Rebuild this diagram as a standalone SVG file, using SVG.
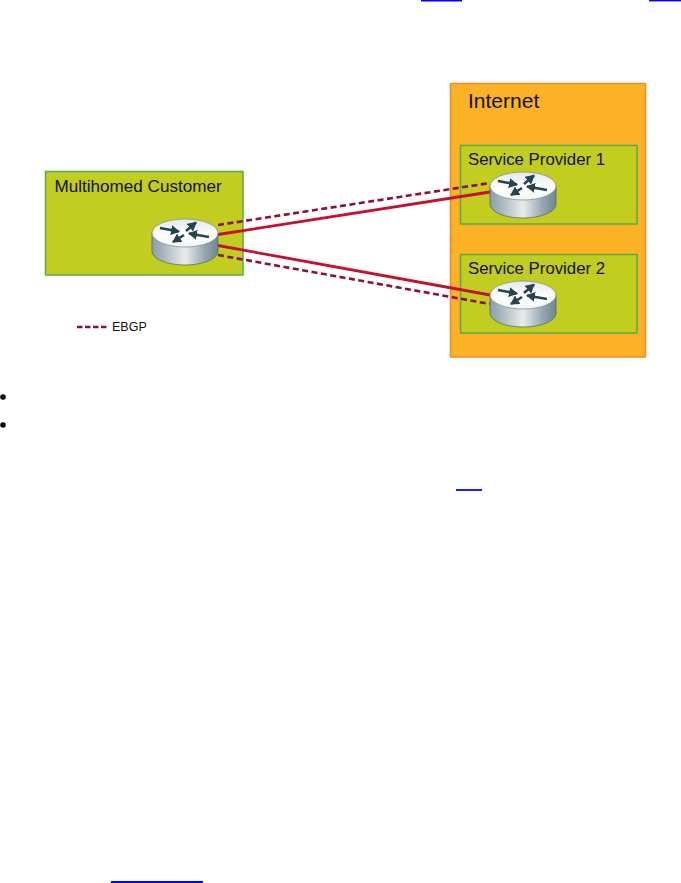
<svg xmlns="http://www.w3.org/2000/svg" width="681" height="883" viewBox="0 0 681 883">
<style>
.lbl{font-family:"Liberation Sans",Arial,sans-serif;fill:#111}
.sub{font-size:16.800px}
.grn{fill:#c1cd1f;stroke:#5aa84f;stroke-width:1.5}
.sol{stroke:#c8102e;stroke-width:2.800;fill:none}
.dsh{stroke:#8e1230;stroke-width:2.600;fill:none;stroke-dasharray:6 3.500}
.lnk{stroke:#0000ff;stroke-width:1.800}
.arw{stroke:#24444f;stroke-width:2.600;fill:none;marker-end:url(#h)}
</style>
<defs>
<marker id="h" markerUnits="userSpaceOnUse" markerWidth="11" markerHeight="11" refX="8" refY="5" orient="auto"><path d="M0 0L9 5L0 10z" fill="#24444f"/></marker>
<linearGradient id="side" x1="0" x2="1" y1="0" y2="0">
<stop offset="0" stop-color="#8b9ea9"/><stop offset=".18" stop-color="#a9b8bf"/><stop offset=".5" stop-color="#e9ecec"/><stop offset=".8" stop-color="#94a6b1"/><stop offset="1" stop-color="#71868f"/>
</linearGradient>
<linearGradient id="top" x1="0" x2="0" y1="0" y2="1">
<stop offset="0" stop-color="#e4e8ea"/><stop offset=".6" stop-color="#fff"/><stop offset="1" stop-color="#f2f4f4"/>
</linearGradient>
<g id="router">
<path d="M0 14V32C0 40 15 46 33 46S66 40 66 32V14z" fill="url(#side)" stroke="#4d5f68" stroke-width=".7"/>
<ellipse cx="33" cy="14" rx="33" ry="14" fill="url(#top)" stroke="#75868e" stroke-width=".7"/>
<line class="arw" x1="8" y1="9" x2="27" y2="12.500"/>
<line class="arw" x1="34" y1="12" x2="44" y2="3.500"/>
<line class="arw" x1="57" y1="18" x2="37" y2="14.500"/>
<line class="arw" x1="32" y1="16" x2="21" y2="23"/>
</g>
</defs>
<rect width="681" height="883" fill="#fff"/>
<g id="page-links">
<line class="lnk" x1="421" y1="0.500" x2="462" y2="0.500"/>
<line class="lnk" x1="649" y1="0.500" x2="681" y2="0.500"/>
<line class="lnk" x1="456" y1="490" x2="482" y2="490"/>
<line class="lnk" x1="111" y1="882" x2="203" y2="882"/>
</g>
<g id="bullets">
<circle cx="3" cy="397" r="2.800" fill="#000"/>
<circle cx="3" cy="425" r="2.800" fill="#000"/>
</g>
<g id="internet">
<rect x="450.500" y="83.500" width="195" height="273.500" fill="#fbb225" stroke="#f58a2c" stroke-width="1.5"/>
<text class="lbl" x="468" y="108" font-size="21">Internet</text>
</g>
<g id="customer">
<rect class="grn" x="45.500" y="171.500" width="197.500" height="103.500"/>
<text class="lbl" x="54.500" y="192" font-size="17.100">Multihomed Customer</text>
</g>
<g id="sp1">
<rect class="grn" x="460.500" y="145.500" width="176.500" height="78.500"/>
<text class="lbl sub" x="468" y="164.500">Service Provider 1</text>
</g>
<g id="sp2">
<rect class="grn" x="460.500" y="254.500" width="176.500" height="78.500"/>
<text class="lbl sub" x="468" y="273.500">Service Provider 2</text>
</g>
<g id="connectors">
<line class="dsh" x1="218" y1="225" x2="490" y2="183"/>
<line class="sol" x1="218" y1="234.500" x2="490" y2="192"/>
<line class="sol" x1="218" y1="245.500" x2="490" y2="295"/>
<line class="dsh" x1="218" y1="255" x2="490" y2="304"/>
</g>
<g id="router-customer"><use href="#router" x="152" y="219"/></g>
<g id="router-sp1"><use href="#router" x="490" y="172"/></g>
<g id="router-sp2"><use href="#router" x="490" y="281"/></g>
<g id="legend">
<line class="dsh" x1="77" y1="327" x2="107" y2="327" style="stroke-dasharray:5.500 2.500"/>
<text class="lbl" x="112" y="331" font-size="12.500">EBGP</text>
</g>
</svg>
